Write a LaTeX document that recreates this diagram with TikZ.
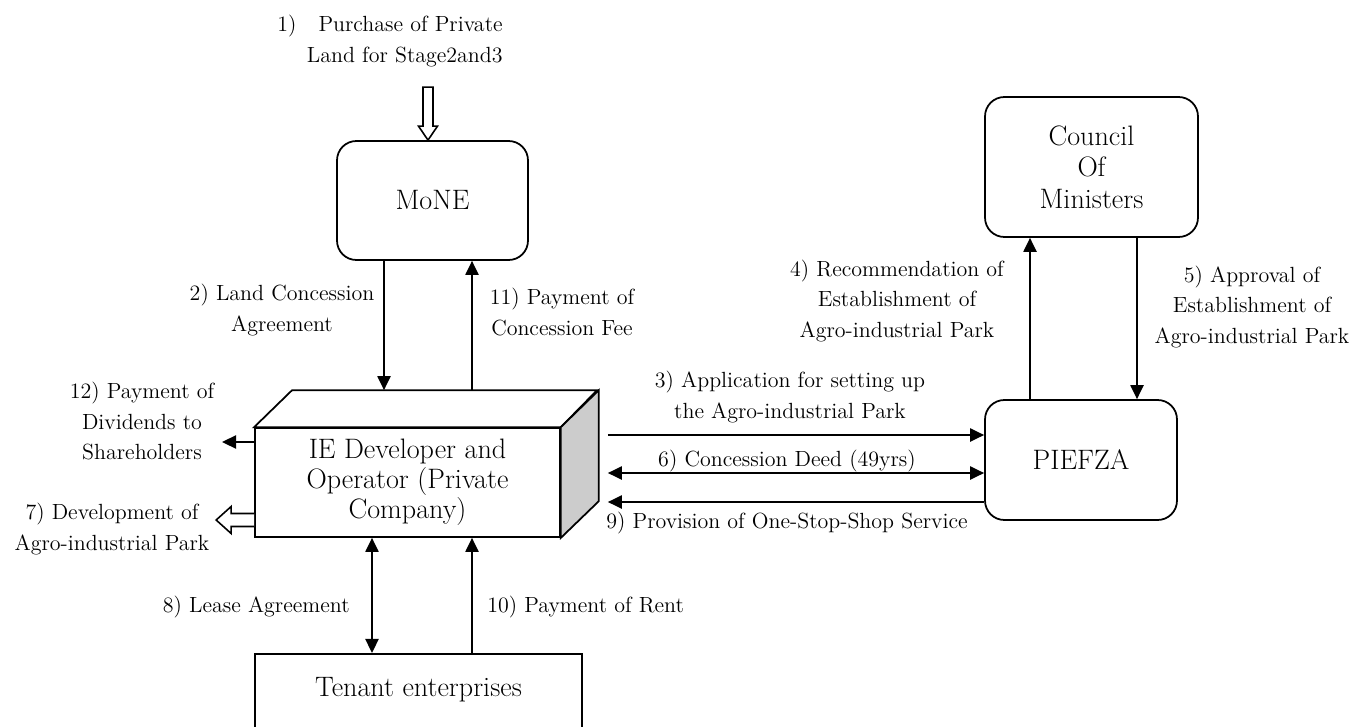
\documentclass[tikz,border=0pt]{standalone}
\usepackage{amsmath,amssymb}
\usetikzlibrary{arrows.meta,calc,positioning}

\tikzset{
  rbox/.style={draw, line width=1pt, rounded corners=11pt, align=center, font=\fontsize{16}{18}\selectfont},
  sbox/.style={draw, line width=1pt, fill=white, align=center, font=\fontsize{16}{17}\selectfont},
  lbl/.style={align=center, inner sep=0pt, font=\fontsize{12.5}{17.5}\selectfont},
  arr/.style={line width=1pt, -{Triangle[length=8pt,width=7.5pt]}},
  darr/.style={line width=1pt, {Triangle[length=8pt,width=7.5pt]}-{Triangle[length=8pt,width=7.5pt]}},
  hollow/.style={draw, line width=0.9pt, fill=white},
}

\begin{document}
\begin{tikzpicture}[x=0.02cm, y=-0.02cm]
  \useasboundingbox (0,0) rectangle (1357,727);
  \clip (0,0) rectangle (1357,727);

  \node[rbox, minimum width=3.82cm, minimum height=2.38cm] (mone) at (432.5,200.5) {MoNE};
  \node[rbox, minimum width=4.26cm, minimum height=2.8cm] (council) at (1091.5,167) {Council\\Of\\Ministers};
  \node[rbox, minimum width=3.84cm, minimum height=2.4cm] (piefza) at (1081,460) {PIEFZA};
  \node[sbox, minimum width=6.1cm, minimum height=2.18cm] (dev) at (407.5,482.5) {IE Developer and\\Operator (Private\\Company)};
  \draw[line width=1pt, fill=white] (dev.north west) -- ++(38,-37) -- ++(305,0) -- (dev.north east) -- cycle;
  \draw[line width=1pt, fill=black!20] (dev.north east) -- ++(38,-37) -- ++(0,111) -- (dev.south east) -- cycle;
  \node[sbox, anchor=north, minimum width=6.54cm, text height=0.6cm, text depth=1.2cm, inner ysep=0.26cm] (tenant) at (418.5,653) {Tenant enterprises};

  \coordinate (dtop) at ($(dev.north)+(38,-37)$);
  \coordinate (dside) at ($(dev.east)+(47,0)$);
  \coordinate (mtip) at ($(mone.north)+(-4.5,0)$);
  \coordinate (m2) at ($(mone.south)+(-48.5,0)$);
  \coordinate (m11) at ($(mone.south)+(39.5,0)$);
  \coordinate (p3) at ($(piefza.west)+(0,-25)$);
  \coordinate (p6) at ($(piefza.west)+(0,13)$);
  \coordinate (p9) at ($(piefza.west)+(0,42)$);
  \coordinate (c4) at ($(piefza.north)+(-51,0)$);
  \coordinate (c5) at ($(piefza.north)+(56,0)$);
  \coordinate (t8) at ($(tenant.north)+(-46.5,0)$);
  \coordinate (t10) at ($(tenant.north)+(53.5,0)$);
  \coordinate (e12) at (222,442);
  \coordinate (e7) at ($(dev.west)+(0,31)$);

  \draw[hollow] (mtip) -- ++(-9.5,-14) -- ++(4.5,0) -- ++(0,-39) -- ++(10,0) -- ++(0,39) -- ++(4.5,0) -- cycle;
  \draw[arr] (m2) -- (m2 |- dtop);
  \draw[arr] (m11 |- dtop) -- (m11);
  \draw[arr] (dside |- p3) -- (p3);
  \draw[darr] (dside |- p6) -- (p6);
  \draw[arr] (p9) -- (dside |- p9);
  \draw[arr] (c4) -- (c4 |- council.south);
  \draw[arr] (c5 |- council.south) -- (c5);
  \draw[darr] (t8) -- (t8 |- dev.south);
  \draw[arr] (t10) -- (t10 |- dev.south);
  \draw[arr] (dev.west |- e12) -- (e12);
  \draw[hollow] (e7) -- ++(-23,0) -- ++(0,-7) -- ++(-15,13.5) -- ++(15,13.5) -- ++(0,-7) -- ++(23,0);

  \node[lbl, anchor=east, align=right] (l1) at (503,41) {1)\quad Purchase of Private\\Land for Stage2and3};
  \node[lbl] (l2) at (282,310) {2) Land Concession\\Agreement};
  \node[lbl] (l11) at (562,312) {11) Payment of\\Concession Fee};
  \node[lbl] (l12) at (142,421) {12) Payment of\\Dividends to\\Shareholders};
  \node[lbl] (l7) at (112,529) {7) Development of\\Agro-industrial Park};
  \node[lbl, anchor=east] (l8) at (350,607) {8) Lease Agreement};
  \node[lbl, anchor=west] (l10) at (487,607) {10) Payment of Rent};
  \node[lbl] (l3) at (790,397) {3) Application for setting up\\the Agro-industrial Park};
  \node[lbl] (l6) at (787,461) {6) Concession Deed (49yrs)};
  \node[lbl] (l9) at (787,523) {9) Provision of One-Stop-Shop Service};
  \node[lbl] (l4) at (897,301) {4) Recommendation of\\Establishment of\\Agro-industrial Park};
  \node[lbl] (l5) at (1252,307) {5) Approval of\\Establishment of\\Agro-industrial Park};
\end{tikzpicture}
\end{document}
